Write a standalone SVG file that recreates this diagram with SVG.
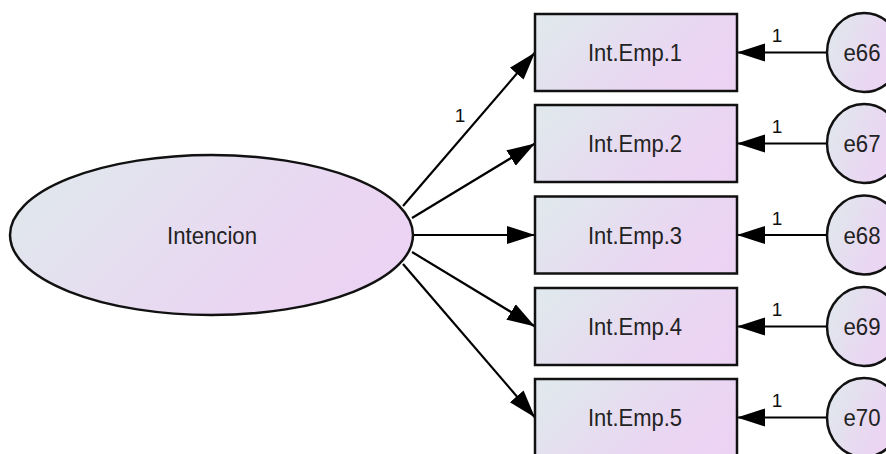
<svg xmlns="http://www.w3.org/2000/svg" width="886" height="454" viewBox="0 0 886 454">
<defs>
<linearGradient id="g" x1="0" y1="0.3" x2="1" y2="0.7">
<stop offset="0" stop-color="#e0e7ed"/>
<stop offset="0.7" stop-color="#ead6f2"/>
<stop offset="1" stop-color="#ecd3f4"/>
</linearGradient>
<marker id="ah" markerUnits="userSpaceOnUse" markerWidth="32" markerHeight="22" viewBox="0 -11 32 22" refX="28" refY="0" orient="auto">
<path d="M0,-9 L28,0 L0,9 Z" fill="#000"/>
</marker>
<style>
.shape{fill:url(#g);stroke:#111;stroke-width:2.5}
.t{font-family:"Liberation Sans",Arial,sans-serif;font-size:23px;fill:#222;text-anchor:middle}
.l{font-family:"Liberation Sans",Arial,sans-serif;font-size:19px;fill:#111;text-anchor:middle}
.c{stroke:#000;stroke-width:2.2;fill:none;marker-end:url(#ah)}
</style>
</defs>
<rect width="886" height="454" fill="#fff"/>
<g id="connectors">
<line class="c" x1="403" y1="206" x2="535" y2="52.5"/>
<line class="c" x1="412" y1="218" x2="535" y2="143.5"/>
<line class="c" x1="413" y1="235" x2="535" y2="235"/>
<line class="c" x1="412" y1="252" x2="535" y2="326.5"/>
<line class="c" x1="403" y1="264" x2="535" y2="417.5"/>
<line class="c" x1="827" y1="52.5" x2="737" y2="52.5"/>
<line class="c" x1="827" y1="143.5" x2="737" y2="143.5"/>
<line class="c" x1="827" y1="235" x2="737" y2="235"/>
<line class="c" x1="827" y1="326.5" x2="737" y2="326.5"/>
<line class="c" x1="827" y1="417.5" x2="737" y2="417.5"/>
<text class="l" x="460" y="122">1</text>
<text class="l" x="777" y="42">1</text>
<text class="l" x="777" y="133">1</text>
<text class="l" x="777" y="225">1</text>
<text class="l" x="777" y="316">1</text>
<text class="l" x="777" y="407">1</text>
</g>
<g id="Intencion">
<ellipse class="shape" cx="211.5" cy="235" rx="201.5" ry="80"/>
<text class="t" x="212" y="243.5" textLength="90" lengthAdjust="spacingAndGlyphs">Intencion</text>
</g>
<g id="IntEmp1">
<rect class="shape" x="535" y="14" width="202" height="77"/>
<text class="t" x="635" y="61" textLength="94" lengthAdjust="spacingAndGlyphs">Int.Emp.1</text>
</g>
<g id="IntEmp2">
<rect class="shape" x="535" y="105" width="202" height="77"/>
<text class="t" x="635" y="152" textLength="94" lengthAdjust="spacingAndGlyphs">Int.Emp.2</text>
</g>
<g id="IntEmp3">
<rect class="shape" x="535" y="196.5" width="202" height="77"/>
<text class="t" x="635" y="243.5" textLength="94" lengthAdjust="spacingAndGlyphs">Int.Emp.3</text>
</g>
<g id="IntEmp4">
<rect class="shape" x="535" y="288" width="202" height="77"/>
<text class="t" x="635" y="335" textLength="94" lengthAdjust="spacingAndGlyphs">Int.Emp.4</text>
</g>
<g id="IntEmp5">
<rect class="shape" x="535" y="379" width="202" height="77"/>
<text class="t" x="635" y="426" textLength="94" lengthAdjust="spacingAndGlyphs">Int.Emp.5</text>
</g>
<g id="e66">
<ellipse class="shape" cx="864" cy="52.5" rx="37" ry="39.5"/>
<text class="t" x="862" y="61" textLength="37" lengthAdjust="spacingAndGlyphs">e66</text>
</g>
<g id="e67">
<ellipse class="shape" cx="864" cy="143.5" rx="37" ry="39.5"/>
<text class="t" x="862" y="152" textLength="37" lengthAdjust="spacingAndGlyphs">e67</text>
</g>
<g id="e68">
<ellipse class="shape" cx="864" cy="235" rx="37" ry="39.5"/>
<text class="t" x="862" y="243.5" textLength="37" lengthAdjust="spacingAndGlyphs">e68</text>
</g>
<g id="e69">
<ellipse class="shape" cx="864" cy="326.5" rx="37" ry="39.5"/>
<text class="t" x="862" y="335" textLength="37" lengthAdjust="spacingAndGlyphs">e69</text>
</g>
<g id="e70">
<ellipse class="shape" cx="864" cy="417.5" rx="37" ry="39.5"/>
<text class="t" x="862" y="426" textLength="37" lengthAdjust="spacingAndGlyphs">e70</text>
</g>
</svg>
